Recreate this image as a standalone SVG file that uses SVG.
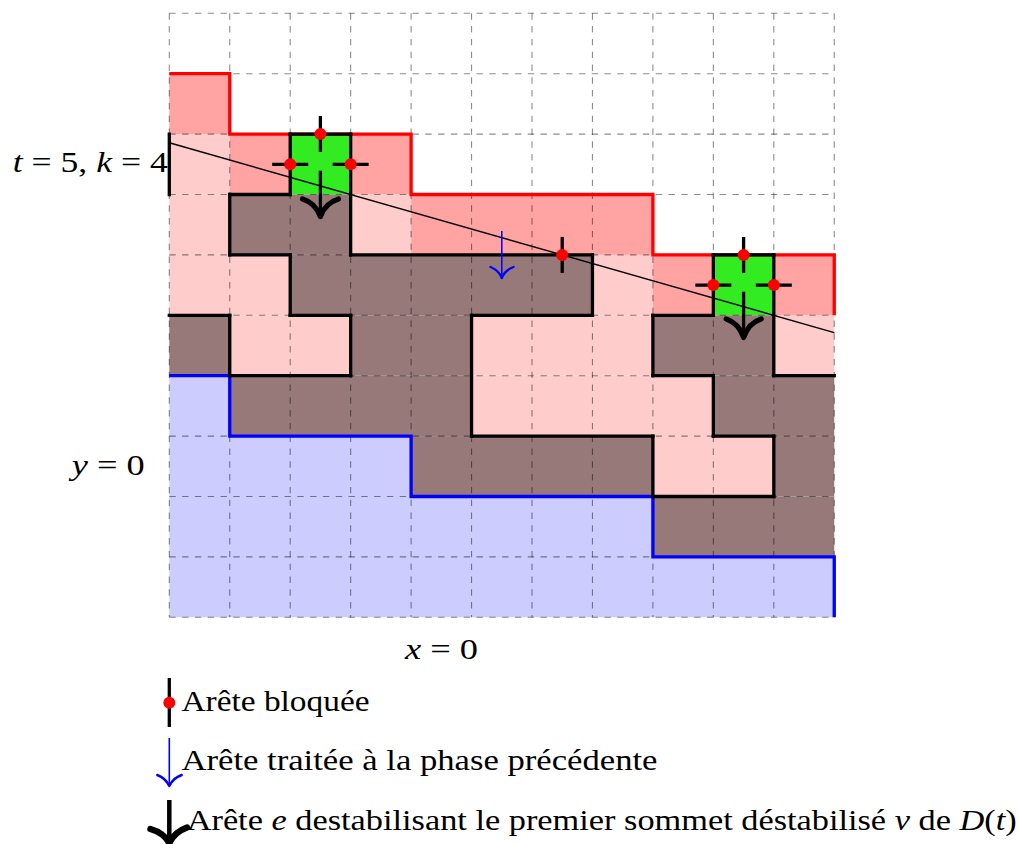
<svg xmlns="http://www.w3.org/2000/svg" width="1019" height="844" viewBox="0 0 1019 844">
<style>
.D{fill:#FFA3A3}.L{fill:#FFCCCC}.G{fill:#33EB21}.B{fill:#977979}.U{fill:#CCCCFF}
.grid{stroke:#000;stroke-opacity:0.45;stroke-width:1.1;stroke-dasharray:6.4 6.4;fill:none}
.blk{stroke:#000;stroke-width:3.3;fill:none;stroke-linecap:square}
.tick{stroke:#000;stroke-width:3.3;fill:none}
.dot{fill:#FF0000}
.it{font-style:italic}
</style>
<rect x="0" y="0" width="1019" height="844" fill="#fff"/>
<g id="fills">
<rect class="D" x="169.3" y="73.7" width="60.45" height="60.4"/>
<rect class="L" x="169.3" y="134.1" width="60.45" height="60.4"/>
<rect class="D" x="229.75" y="134.1" width="60.45" height="60.4"/>
<rect class="G" x="290.2" y="134.1" width="60.45" height="60.4"/>
<rect class="D" x="350.65" y="134.1" width="60.45" height="60.4"/>
<rect class="L" x="169.3" y="194.5" width="60.45" height="60.4"/>
<rect class="B" x="229.75" y="194.5" width="120.9" height="60.4"/>
<rect class="L" x="350.65" y="194.5" width="60.45" height="60.4"/>
<rect class="D" x="411.1" y="194.5" width="241.8" height="60.4"/>
<rect class="L" x="169.3" y="254.9" width="120.9" height="60.4"/>
<rect class="B" x="290.2" y="254.9" width="302.25" height="60.4"/>
<rect class="L" x="592.45" y="254.9" width="60.45" height="60.4"/>
<rect class="D" x="652.9" y="254.9" width="60.45" height="60.4"/>
<rect class="G" x="713.35" y="254.9" width="60.45" height="60.4"/>
<rect class="D" x="773.8" y="254.9" width="60.45" height="60.4"/>
<rect class="B" x="169.3" y="315.3" width="60.45" height="60.4"/>
<rect class="L" x="229.75" y="315.3" width="120.9" height="60.4"/>
<rect class="B" x="350.65" y="315.3" width="120.9" height="60.4"/>
<rect class="L" x="471.55" y="315.3" width="181.35" height="60.4"/>
<rect class="B" x="652.9" y="315.3" width="120.9" height="60.4"/>
<rect class="L" x="773.8" y="315.3" width="60.45" height="60.4"/>
<rect class="B" x="229.75" y="375.7" width="241.8" height="60.4"/>
<rect class="L" x="471.55" y="375.7" width="241.8" height="60.4"/>
<rect class="B" x="713.35" y="375.7" width="120.9" height="60.4"/>
<rect class="B" x="411.1" y="436.1" width="241.8" height="60.4"/>
<rect class="L" x="652.9" y="436.1" width="120.9" height="60.4"/>
<rect class="B" x="773.8" y="436.1" width="60.45" height="60.4"/>
<rect class="B" x="652.9" y="496.5" width="181.35" height="60.4"/>
<polygon class="U" points="169.3,375.7 229.75,375.7 229.75,436.1 411.1,436.1 411.1,496.5 652.9,496.5 652.9,556.9 834.25,556.9 834.25,617.3 169.3,617.3"/>
</g>
<g id="grid" class="grid">
<path d="M169.3,13.3V617.3M229.75,13.3V617.3M290.2,13.3V617.3M350.65,13.3V617.3M411.1,13.3V617.3M471.55,13.3V617.3M532,13.3V617.3M592.45,13.3V617.3M652.9,13.3V617.3M713.35,13.3V617.3M773.8,13.3V617.3M834.25,13.3V617.3"/>
<path d="M169.3,13.3H834.25M169.3,73.7H834.25M169.3,134.1H834.25M169.3,194.5H834.25M169.3,254.9H834.25M169.3,315.3H834.25M169.3,375.7H834.25M169.3,436.1H834.25M169.3,496.5H834.25M169.3,556.9H834.25M169.3,617.3H834.25"/>
</g>
<g id="boundaries">
<polyline fill="none" stroke="#FF0000" stroke-width="3.3" points="169.3,73.7 229.75,73.7 229.75,134.1 411.1,134.1 411.1,194.5 652.9,194.5 652.9,254.9 834.25,254.9 834.25,315.3"/>
<polyline fill="none" stroke="#0000FF" stroke-width="3.3" points="169.3,375.7 229.75,375.7 229.75,436.1 411.1,436.1 411.1,496.5 652.9,496.5 652.9,556.9 834.25,556.9 834.25,617.3"/>
<path class="blk" d="M290.2,134.1H350.65M229.75,194.5H290.2M229.75,254.9H290.2M350.65,254.9H592.45M713.35,254.9H773.8M169.3,315.3H229.75M290.2,315.3H350.65M471.55,315.3H592.45M652.9,315.3H713.35M229.75,375.7H350.65M652.9,375.7H713.35M773.8,375.7H834.25M471.55,436.1H652.9M713.35,436.1H773.8M652.9,496.5H773.8"/>
<path class="blk" d="M290.2,134.1V194.5M290.2,254.9V315.3M350.65,134.1V254.9M350.65,315.3V375.7M229.75,194.5V254.9M229.75,315.3V375.7M592.45,254.9V315.3M713.35,254.9V315.3M713.35,375.7V436.1M773.8,254.9V375.7M773.8,436.1V496.5M471.55,315.3V436.1M652.9,315.3V375.7M652.9,436.1V496.5M169.3,134.1V194.5"/>
</g>
<g id="connectors">
<line x1="169.3" y1="142.73" x2="834.25" y2="332.56" stroke="#000" stroke-width="1.4"/>
<g id="blocked-1">
<path class="tick" d="M320.4,116.1V152.1M272.2,164.3H308.2M332.65,164.3H368.65"/>
<circle class="dot" cx="320.4" cy="134.1" r="6"/>
<circle class="dot" cx="290.2" cy="164.3" r="6"/>
<circle class="dot" cx="350.65" cy="164.3" r="6"/>
</g>
<g id="blocked-2">
<path class="tick" d="M743.6,236.9V272.9M695.35,285.1H731.35M755.8,285.1H791.8"/>
<circle class="dot" cx="743.6" cy="254.9" r="6"/>
<circle class="dot" cx="713.35" cy="285.1" r="6"/>
<circle class="dot" cx="773.8" cy="285.1" r="6"/>
</g>
<g id="blocked-3">
<path class="tick" d="M562.2,236.9V272.9"/>
<circle class="dot" cx="562.2" cy="254.9" r="6"/>
</g>
<g id="arrow-e1">
<path d="M320.4,170.7V216" stroke="#000" stroke-width="3.3" fill="none"/>
<path d="M302.5,199 Q315.5,203 320.4,216.5 Q325.3,203 338.5,199" stroke="#000" stroke-width="5.2" fill="none" stroke-linecap="round" stroke-linejoin="round"/>
</g>
<g id="arrow-e2">
<path d="M743.6,291.7V337" stroke="#000" stroke-width="3.3" fill="none"/>
<path d="M726.2,319 Q738.7,323 743.6,337.5 Q748.5,323 761.2,319" stroke="#000" stroke-width="5.2" fill="none" stroke-linecap="round" stroke-linejoin="round"/>
</g>
<g id="arrow-prev">
<path d="M501.8,231V277.5" stroke="#0000FF" stroke-width="1.5" fill="none"/>
<path d="M490.5,267 Q498.5,270 501.8,278 Q505,270 513.5,267" stroke="#0000FF" stroke-width="2.3" fill="none" stroke-linecap="round" stroke-linejoin="round"/>
</g>
</g>
<g id="labels">
<text style="font-family:'Liberation Serif','Times New Roman',serif;font-size:29px" x="12.7" y="172" textLength="155" lengthAdjust="spacingAndGlyphs"><tspan class="it">t</tspan> = 5, <tspan class="it">k</tspan> = 4</text>
<text style="font-family:'Liberation Serif','Times New Roman',serif;font-size:29px" x="71.7" y="475" textLength="73" lengthAdjust="spacingAndGlyphs"><tspan class="it">y</tspan> = 0</text>
<text style="font-family:'Liberation Serif','Times New Roman',serif;font-size:29px" x="405" y="659" textLength="73" lengthAdjust="spacingAndGlyphs"><tspan class="it">x</tspan> = 0</text>
</g>
<g id="legend">
<g id="legend-blocked">
<path class="tick" d="M169.3,678V727"/>
<circle class="dot" cx="169.3" cy="702.7" r="6"/>
<text style="font-family:'Liberation Serif','Times New Roman',serif;font-size:29px" x="181.5" y="710.7" textLength="188" lengthAdjust="spacingAndGlyphs">Arête bloquée</text>
</g>
<g id="legend-prev">
<path d="M169.3,738V785" stroke="#0000FF" stroke-width="1.6" fill="none"/>
<path d="M157.3,775 Q165.5,778 169.3,786 Q173,778 181.7,775" stroke="#0000FF" stroke-width="2.4" fill="none" stroke-linecap="round" stroke-linejoin="round"/>
<text style="font-family:'Liberation Serif','Times New Roman',serif;font-size:29px" x="181.5" y="770" textLength="476" lengthAdjust="spacingAndGlyphs">Arête traitée à la phase précédente</text>
</g>
<g id="legend-e">
<path d="M169.3,800V842" stroke="#000" stroke-width="4.5" fill="none"/>
<path d="M150.5,829 Q164,833 169.3,843 Q174.5,832 187,827.5" stroke="#000" stroke-width="6.5" fill="none" stroke-linecap="round" stroke-linejoin="round"/>
<text style="font-family:'Liberation Serif','Times New Roman',serif;font-size:29px" x="186.7" y="830" textLength="830" lengthAdjust="spacingAndGlyphs">Arête <tspan class="it">e</tspan> destabilisant le premier sommet déstabilisé <tspan class="it">v</tspan> de <tspan class="it">D</tspan>(<tspan class="it">t</tspan>)</text>
</g>
</g>
</svg>
